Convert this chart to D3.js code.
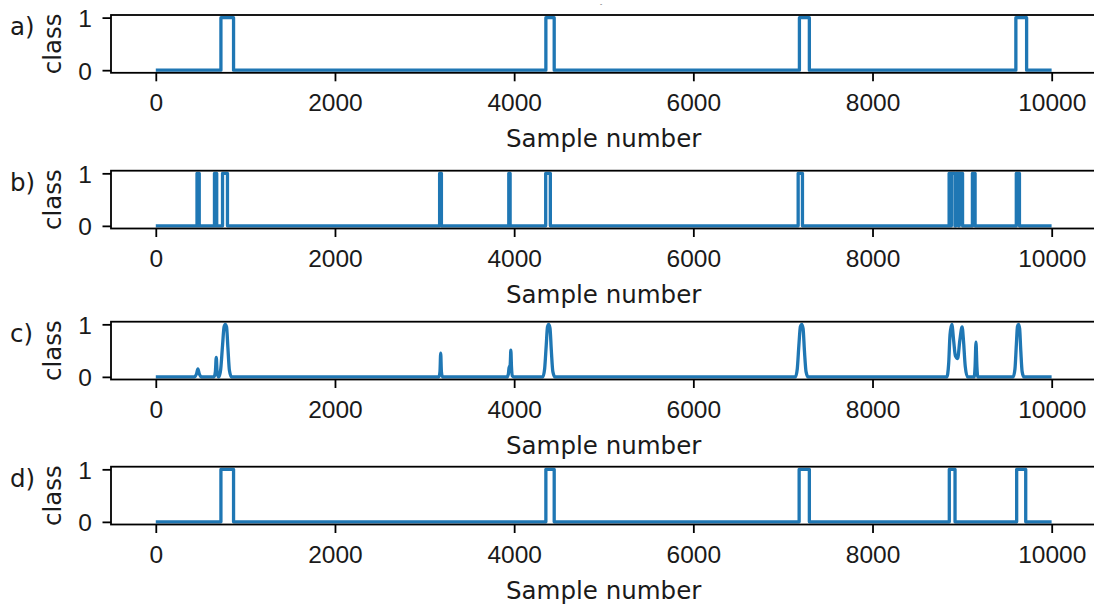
<!DOCTYPE html>
<html>
<head>
<meta charset="utf-8">
<script src="https://cdn.jsdelivr.net/npm/d3@7/dist/d3.min.js"></script>
<style>
  body { margin: 0; background: #fff; }
  svg { display: block; font-family: "DejaVu Sans", sans-serif; }
  .tick-label { font-size: 24.5px; fill: #1a1a1a; }
  .axis-label { font-size: 24.5px; fill: #1a1a1a; }
</style>
</head>
<body>
<div id="chart"></div>
<script>
/*------ data ------*/

var xTicks = [0, 2000, 4000, 6000, 8000, 10000];
var yTicks = [0, 1];
var panelLabels = ["a)", "b)", "c)", "d)"];
var xLabel = "Sample number";
var yLabel = "class";
var nSamples = 9999;

// a) true class: [start, end] of each pulse
var pulsesA = [[727, 868], [4354, 4447], [7184, 7295], [9600, 9720]];

// b) thresholded prediction
var pulsesB = [[460, 485], [655, 680], [745, 800], [3168, 3188], [3940, 3955],
  [4352, 4404], [7170, 7218], [8855, 8870], [8880, 8920], [8930, 8960],
  [8968, 9005], [9115, 9145], [9605, 9640]];

// c) raw output, [sample, value]
var pointsC = [
  [0, 0], [430, 0], [455, 0.06], [470, 0.15], [485, 0.06], [510, 0],
  [650, 0], [665, 0.1], [675, 0.37], [685, 0.08], [700, 0],
  [705, 0], [725, 0.15], [745, 0.6], [762, 0.95], [775, 1.0], [790, 0.95], [805, 0.55], [822, 0.12], [845, 0],
  [3160, 0], [3172, 0.1], [3180, 0.45], [3188, 0.1], [3200, 0],
  [3920, 0], [3935, 0.05], [3945, 0.2], [3952, 0.15], [3958, 0.3], [3963, 0.51], [3970, 0.2], [3980, 0.02], [3995, 0],
  [4320, 0], [4340, 0.15], [4358, 0.6], [4372, 0.95], [4385, 1.0], [4400, 0.93], [4415, 0.5], [4432, 0.1], [4455, 0],
  [7140, 0], [7160, 0.15], [7178, 0.6], [7195, 0.96], [7210, 1.0], [7225, 0.92], [7240, 0.5], [7258, 0.1], [7280, 0],
  [8830, 0], [8850, 0.25], [8865, 0.8], [8885, 1.0], [8905, 0.7], [8925, 0.4], [8950, 0.35], [8975, 0.7],
  [9000, 0.95], [9015, 0.7], [9035, 0.2], [9060, 0],
  [9135, 0], [9145, 0.2], [9155, 0.66], [9165, 0.2], [9175, 0],
  [9570, 0], [9590, 0.15], [9605, 0.6], [9618, 0.96], [9630, 1.0], [9642, 0.92], [9655, 0.5], [9670, 0.1], [9690, 0],
  [9999, 0]
];

// d) post-processed prediction
var pulsesD = [[727, 868], [4354, 4447], [7181, 7295], [8857, 8921], [9609, 9710]];

/*------ layout ------*/

var width = 1094, height = 605;
var left = 111, right = 1096.4;
var panelTops = [15, 170.7, 321.7, 466.7];
var panelH = 57.8;
var lineColor = "#1f77b4";

var svg = d3.select("#chart").append("svg")
  .attr("width", width)
  .attr("height", height);

svg.append("rect").attr("width", width).attr("height", height).attr("fill", "#fff");

var x = d3.scaleLinear()
  .domain([-0.05 * nSamples, nSamples * 1.05])
  .range([left, right]);

function pulsesToPoints(pulses) {
  var pts = [[0, 0]];
  pulses.forEach(function(p) {
    pts.push([p[0], 0], [p[0], 1], [p[1], 1], [p[1], 0]);
  });
  pts.push([nSamples, 0]);
  return pts;
}

var series = [
  { pts: pulsesToPoints(pulsesA), curve: d3.curveLinear },
  { pts: pulsesToPoints(pulsesB), curve: d3.curveLinear },
  { pts: pointsC, curve: d3.curveMonotoneX },
  { pts: pulsesToPoints(pulsesD), curve: d3.curveLinear }
];

// tiny stray title mark at the top
svg.append("text")
  .attr("x", 601).attr("y", 6)
  .attr("text-anchor", "middle")
  .style("font-size", "6px")
  .attr("fill", "#333")
  .text("-");

series.forEach(function(s, i) {
  var top = panelTops[i];
  var bottom = top + panelH;
  var y = d3.scaleLinear().domain([-0.05, 1.05]).range([bottom, top]);
  var g = svg.append("g");

  // line
  var line = d3.line()
    .x(function(d) { return x(d[0]); })
    .y(function(d) { return y(d[1]); })
    .curve(s.curve);

  g.append("path")
    .datum(s.pts)
    .attr("d", line)
    .attr("fill", "none")
    .attr("stroke", lineColor)
    .attr("stroke-width", 3.3)
    .attr("stroke-linejoin", "round");

  // x axis
  var xAxis = g.append("g")
    .attr("transform", "translate(0," + bottom + ")")
    .call(d3.axisBottom(x).tickValues(xTicks).tickSize(8.5).tickPadding(0).tickFormat(d3.format("d")));
  xAxis.select(".domain").remove();
  xAxis.selectAll("line").attr("stroke", "#000").attr("stroke-width", 1.8);
  xAxis.selectAll("text").attr("class", "tick-label").attr("y", 38).attr("dy", null).attr("fill", "#1a1a1a");

  // y axis
  var yAxis = g.append("g")
    .attr("transform", "translate(" + left + ",0)")
    .call(d3.axisLeft(y).tickValues(yTicks).tickSize(8.5).tickFormat(d3.format("d")));
  yAxis.select(".domain").remove();
  yAxis.selectAll("line").attr("stroke", "#000").attr("stroke-width", 1.8);
  yAxis.selectAll("text").attr("class", "tick-label").attr("x", -19).attr("dy", "0.36em").attr("fill", "#1a1a1a");

  // frame
  g.append("rect")
    .attr("x", left).attr("y", top)
    .attr("width", right - left).attr("height", panelH)
    .attr("fill", "none")
    .attr("stroke", "#000")
    .attr("stroke-width", 1.8);

  // labels
  g.append("text")
    .attr("class", "axis-label")
    .attr("x", (left + right) / 2)
    .attr("y", bottom + 74)
    .attr("text-anchor", "middle")
    .text(xLabel);

  g.append("text")
    .attr("class", "axis-label")
    .attr("transform", "translate(61," + (top + panelH / 2) + ") rotate(-90)")
    .attr("text-anchor", "middle")
    .text(yLabel);

  g.append("text")
    .attr("class", "axis-label")
    .attr("x", 10)
    .attr("y", top + 20)
    .text(panelLabels[i]);
});
</script>
</body>
</html>
